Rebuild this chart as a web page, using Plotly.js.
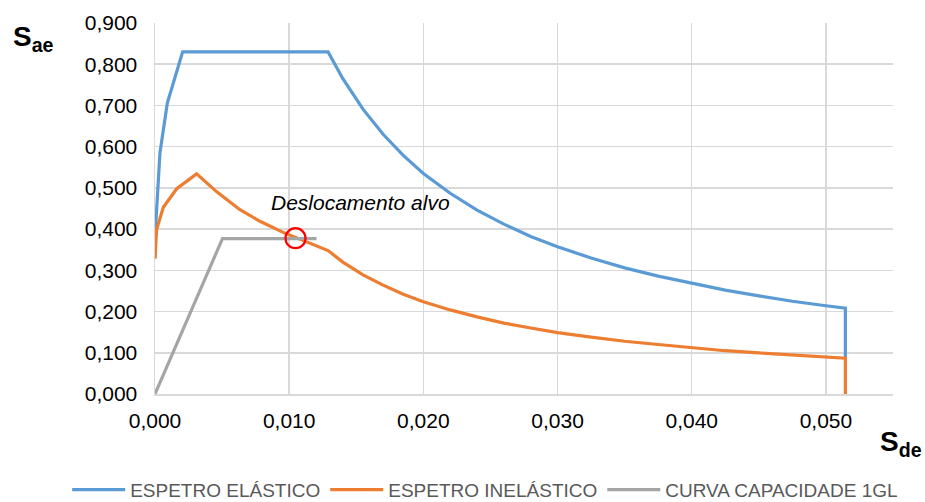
<!DOCTYPE html>
<html>
<head>
<meta charset="utf-8">
<script src="https://cdn.plot.ly/plotly-3.0.1.min.js"></script>
<style>
  html, body { margin: 0; padding: 0; background: #fff; }
  #chart { width: 925px; height: 502px; }
</style>
</head>
<body>
<div id="chart"></div>
<script>
// Espetro de resposta elástico (Sde, Sae)
const sdElastic = [0, 0.00005, 0.00037, 0.00092, 0.00206, 0.0129, 0.0140, 0.0155, 0.0170, 0.0185,
  0.0200, 0.0220, 0.0240, 0.0260, 0.0280, 0.0300, 0.0325, 0.0350, 0.0375, 0.0400,
  0.0425, 0.0450, 0.0475, 0.0500, 0.05145, 0.05145];
const saElastic = [0.332, 0.407, 0.585, 0.706, 0.830, 0.830, 0.765, 0.691, 0.630, 0.579,
  0.535, 0.487, 0.446, 0.412, 0.382, 0.357, 0.330, 0.306, 0.286, 0.268,
  0.252, 0.238, 0.225, 0.214, 0.208, 0.087];

// Espetro de resposta inelástico
const sdInelastic = [0, 0.00012, 0.00062, 0.00162, 0.0031, 0.00458, 0.00633, 0.00782, 0.00955, 0.0113,
  0.0129, 0.0140, 0.0155, 0.0170, 0.0185, 0.0200, 0.0220, 0.0240, 0.0260, 0.0280,
  0.0300, 0.0325, 0.0350, 0.0375, 0.0400, 0.0425, 0.0450, 0.0475, 0.0500, 0.05145, 0.05145];
const saInelastic = [0.328, 0.399, 0.453, 0.498, 0.534, 0.491, 0.447, 0.419, 0.392, 0.370,
  0.348, 0.320, 0.289, 0.264, 0.242, 0.224, 0.204, 0.187, 0.172, 0.160,
  0.149, 0.138, 0.128, 0.120, 0.112, 0.105, 0.0996, 0.094, 0.0895, 0.0868, 0];

// Curva de capacidade bilinear do sistema de 1 grau de liberdade
const sdCapacity = [0, 0.00503, 0.01204];
const saCapacity = [0, 0.377, 0.377];

// Ponto de desempenho (deslocamento alvo)
const sdTarget = [0.01047];
const saTarget = [0.378];

const seriesNames = ['ESPETRO ELÁSTICO', 'ESPETRO INELÁSTICO', 'CURVA CAPACIDADE 1GL'];
const seriesColors = ['#5B9BD5', '#ED7D31', '#A5A5A5'];
const targetLabel = 'Deslocamento alvo';

const FONT = 'Arial, "Liberation Sans", sans-serif';

const traces = [
  { x: sdElastic, y: saElastic, name: seriesNames[0], mode: 'lines',
    line: { color: seriesColors[0], width: 3.2 } },
  { x: sdInelastic, y: saInelastic, name: seriesNames[1], mode: 'lines',
    line: { color: seriesColors[1], width: 3.2 } },
  { x: sdCapacity, y: saCapacity, name: seriesNames[2], mode: 'lines',
    line: { color: seriesColors[2], width: 3.2 } },
  { x: sdTarget, y: saTarget, mode: 'markers', showlegend: false, hoverinfo: 'skip',
    marker: { symbol: 'circle-open', size: 20, color: '#FF0000', line: { width: 2.2, color: '#FF0000' } } }
];

const layout = {
  width: 925, height: 502,
  margin: { l: 155, r: 32, t: 23, b: 108, autoexpand: false },
  paper_bgcolor: '#ffffff', plot_bgcolor: '#ffffff',
  separators: ',.',
  font: { family: FONT, size: 21, color: '#000000' },
  xaxis: {
    range: [0, 0.055], dtick: 0.01, tick0: 0, tickformat: '.3f',
    showgrid: true, gridcolor: '#D9D9D9', gridwidth: 1.5,
    showline: true, linecolor: '#D9D9D9', linewidth: 1.5,
    zeroline: false, ticks: '', ticklabelstandoff: 7,
    tickfont: { family: FONT, size: 21, color: '#000000' }
  },
  yaxis: {
    range: [0, 0.9], dtick: 0.1, tick0: 0, tickformat: '.3f',
    showgrid: true, gridcolor: '#D9D9D9', gridwidth: 1.5,
    showline: true, linecolor: '#D9D9D9', linewidth: 1.5,
    zeroline: false, ticks: '', ticklabelstandoff: 12,
    tickfont: { family: FONT, size: 21, color: '#000000' }
  },
  showlegend: true,
  legend: {
    orientation: 'h',
    xref: 'paper', yref: 'paper',
    x: -0.119, xanchor: 'left',
    y: -0.258, yanchor: 'middle',
    itemwidth: 53,
    font: { family: FONT, size: 19, color: '#595959' },
    bgcolor: 'rgba(0,0,0,0)'
  },
  annotations: [
    { xref: 'paper', yref: 'paper', x: -0.195, y: 0.958, xanchor: 'left', yanchor: 'middle',
      text: '<b>S<sub>ae</sub></b>', showarrow: false,
      font: { family: FONT, size: 28, color: '#000000' } },
    { xref: 'paper', yref: 'paper', x: 1.011, y: -0.134, xanchor: 'center', yanchor: 'middle',
      text: '<b>S<sub>de</sub></b>', showarrow: false,
      font: { family: FONT, size: 28, color: '#000000' } },
    { xref: 'x', yref: 'y', x: 0.00849, y: 0.464, xanchor: 'left', yanchor: 'middle',
      text: '<i>' + targetLabel + '</i>', showarrow: false,
      font: { family: FONT, size: 21, color: '#000000' } }
  ]
};

Plotly.newPlot('chart', traces, layout, { displayModeBar: false, staticPlot: true });
</script>
</body>
</html>
